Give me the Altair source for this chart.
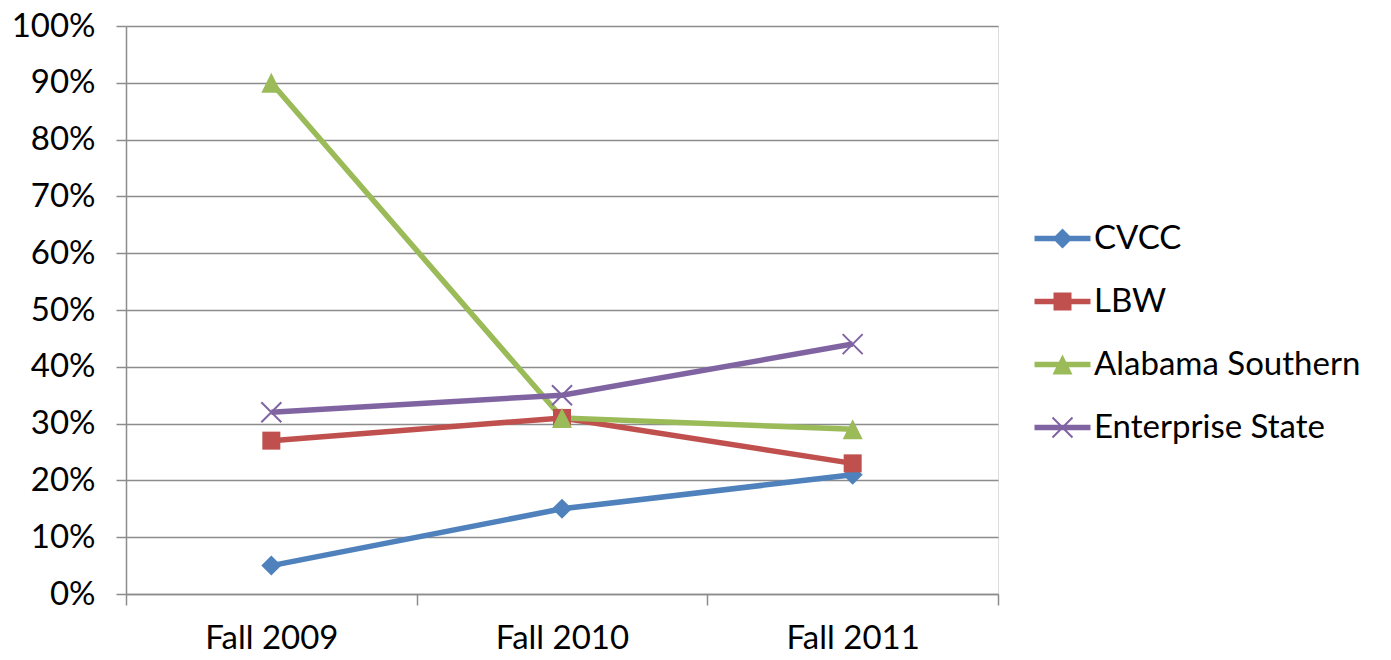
import altair as alt
import pandas as pd

categories = ["Fall 2009", "Fall 2010", "Fall 2011"]
series = ["CVCC", "LBW", "Alabama Southern", "Enterprise State"]
cvcc = [0.05, 0.15, 0.21]
lbw = [0.27, 0.31, 0.23]
alabama = [0.90, 0.31, 0.29]
enterprise = [0.32, 0.35, 0.44]
y_ticks = [0, 0.1, 0.2, 0.3, 0.4, 0.5, 0.6, 0.7, 0.8, 0.9, 1.0]

colors = ["#4F81BD", "#C0504D", "#9BBB59", "#8064A2"]

rows = []
for s, vals in zip(series, [cvcc, lbw, alabama, enterprise]):
    for c, v in zip(categories, vals):
        rows.append({"series": s, "cat": c, "v": v})
df = pd.DataFrame(rows)

# marker paths (all clockwise so overlapping parts stay filled)
diamond = "M0,-1L-1,0L0,1L1,0Z"
square = "M-0.9,-0.9L-0.9,0.9L0.9,0.9L0.9,-0.9Z"
triangle = "M0,-1L-1,1L1,1Z"
xmark = ("M-1.07,-0.93L0.93,1.07L1.07,0.93L-0.93,-1.07Z"
         "M-0.93,1.07L1.07,-0.93L0.93,-1.07L-1.07,0.93Z")
seg = "M-2.8,-0.27L-2.8,0.27L2.8,0.27L2.8,-0.27Z"
marker_paths = [diamond, square, triangle, xmark]
legend_paths = [seg + p for p in marker_paths]

FONT = "Lato"
GRAY = "#8c8c8c"
FS = 33

x_enc = alt.X("cat:N", sort=categories, title=None,
              scale=alt.Scale(paddingInner=0, paddingOuter=0),
              axis=alt.Axis(tickBand="extent", tickSize=11, labelPadding=17,
                            labelAngle=0, domainColor=GRAY, tickColor=GRAY,
                            domainWidth=1.5, tickWidth=1.5, grid=False,
                            labelFont=FONT, labelFontSize=FS, labelColor="black"))
y_enc = alt.Y("v:Q", title=None,
              scale=alt.Scale(domain=[0, 1], nice=False),
              axis=alt.Axis(format=".0%", values=y_ticks, tickSize=10,
                            labelPadding=21, domainColor=GRAY, tickColor=GRAY,
                            gridColor=GRAY, gridWidth=1.5, domainWidth=1.5,
                            tickWidth=1.5, labelFont=FONT, labelFontSize=FS,
                            labelColor="black"))

color_scale = alt.Scale(domain=series, range=colors)

lines = alt.Chart(df).mark_line(strokeWidth=5.5).encode(
    x=x_enc, y=y_enc,
    color=alt.Color("series:N", scale=color_scale, legend=None),
)

points = alt.Chart(df).mark_point(filled=True, opacity=1, size=400, strokeWidth=0).encode(
    x=x_enc, y=y_enc,
    color=alt.Color("series:N", scale=color_scale, legend=None),
    shape=alt.Shape("series:N", scale=alt.Scale(domain=series, range=marker_paths), legend=None),
)

leg = dict(title=None, orient="none", legendX=920, legendY=196,
           labelFont=FONT, labelFontSize=FS, labelColor="black", labelLimit=0,
           symbolSize=400, symbolStrokeWidth=0, labelOffset=15,
           rowPadding=29, padding=0)

legend_layer = alt.Chart(df).transform_filter("datum.v < 0").mark_point(
    filled=True, opacity=1, size=400, strokeWidth=0
).encode(
    color=alt.Color("series:N", scale=color_scale, legend=alt.Legend(**leg)),
    shape=alt.Shape("series:N", scale=alt.Scale(domain=series, range=legend_paths),
                    legend=alt.Legend(**leg)),
)

chart = alt.layer(lines, points, legend_layer).resolve_scale(
    color="independent", shape="independent"
).properties(
    width=872, height=568,
    autosize=alt.AutoSizeParams(type="none"),
    padding={"left": 118, "top": 18, "right": 385, "bottom": 66},
).configure_view(stroke=None).configure(background="white")

chart.save("out.html", embed_options={"renderer": "svg", "actions": False})
